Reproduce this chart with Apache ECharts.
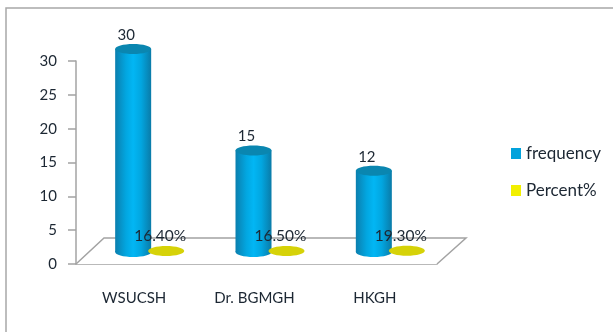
<!DOCTYPE html>
<html>
<head>
<meta charset="utf-8">
<style>html,body{margin:0;padding:0;background:#fff}#chart{width:613px;height:332px}</style>
<script src="https://cdn.jsdelivr.net/npm/echarts@6/dist/echarts.min.js"></script>
</head>
<body>
<div id="chart"></div>
<script>
const categories = ['WSUCSH', 'Dr. BGMGH', 'HKGH'];
const frequency = [30, 15, 12];
const percentShare = [0.164, 0.165, 0.193];
const yTicks = { min: 0, max: 30, interval: 5 };

const FONT = 'Lato';
const TEXT = '#1c2733';
const AXIS = '#a3a3a3';
// Oblique depth of the floor, and where columns stand on it.
const DEPTH = { dx: 28, dy: -26 };
const STAND = { dx: -3, dy: -12 };
const COL_RX = 18, COL_RY = 5;
const DISC_DX = 33;

function renderFloor(params) {
  const r = params.coordSys;
  const b = r.y + r.height, l = r.x, e = r.x + r.width;
  return {
    type: 'polyline',
    silent: true,
    shape: { points: [[l, b], [l + DEPTH.dx, b + DEPTH.dy], [e + DEPTH.dx + 1, b + DEPTH.dy], [e, b]] },
    style: { fill: '#fff', stroke: AXIS, lineWidth: 1.5 }
  };
}

function renderColumn(params, api) {
  const i = api.value(0), v = api.value(1);
  const top = api.coord([i, v]), base = api.coord([i, 0]);
  const cx = top[0] + STAND.dx;
  const yTop = top[1] + STAND.dy, yBase = base[1] + STAND.dy;
  const side = new echarts.graphic.LinearGradient(0, 0, 1, 0, [
    { offset: 0, color: '#0b7fae' },
    { offset: 0.3, color: '#02a6e0' },
    { offset: 0.5, color: '#02b6f4' },
    { offset: 0.72, color: '#02a6e0' },
    { offset: 1, color: '#0a7ba8' }
  ]);
  return {
    type: 'group',
    children: [
      { type: 'ellipse', shape: { cx: cx, cy: yBase, rx: COL_RX, ry: COL_RY }, style: { fill: side } },
      { type: 'rect', shape: { x: cx - COL_RX, y: yTop, width: COL_RX * 2, height: yBase - yTop }, style: { fill: side } },
      { type: 'ellipse', shape: { cx: cx, cy: yTop, rx: COL_RX, ry: COL_RY }, style: { fill: '#0a86b0' } },
      { type: 'text', style: { x: cx - 7, y: yTop - 14, text: String(v), fill: TEXT, font: '15px ' + FONT, align: 'center', verticalAlign: 'middle' } }
    ]
  };
}

function renderDisc(params, api) {
  const i = api.value(0), v = api.value(1);
  const top = api.coord([i, v]);
  const cx = top[0] + STAND.dx + DISC_DX;
  const cy = top[1] + STAND.dy;
  return {
    type: 'group',
    z2: 10,
    children: [
      { type: 'ellipse', shape: { cx: cx, cy: cy, rx: COL_RX, ry: COL_RY }, style: { fill: '#d6d208' } },
      { type: 'text', z2: 20, style: { x: cx - 6, y: cy - 15, text: (v * 100).toFixed(2) + '%', fill: TEXT, font: '15.5px ' + FONT, align: 'center', verticalAlign: 'middle' } }
    ]
  };
}

const chart = echarts.init(document.getElementById('chart'), null, { renderer: 'canvas' });
chart.setOption({
  animation: false,
  backgroundColor: '#fff',
  graphic: [{
    type: 'rect',
    silent: true,
    z: -1,
    shape: { x: 6, y: 8, width: 640, height: 360 },
    style: { fill: 'none', stroke: '#a8a8a8', lineWidth: 1.5 }
  }],
  grid: { left: 76, right: 176, top: 61, bottom: 68 },
  legend: {
    orient: 'vertical',
    left: 511,
    top: 145,
    padding: 0,
    itemWidth: 10,
    itemHeight: 11,
    itemGap: 20,
    icon: 'rect',
    data: ['frequency', 'Percent%'],
    textStyle: { fontFamily: FONT, fontSize: 17, color: TEXT }
  },
  xAxis: {
    type: 'category',
    data: categories,
    axisLine: { lineStyle: { color: AXIS, width: 1.5 } },
    axisTick: { length: 8, lineStyle: { color: AXIS, width: 1.5 } },
    axisLabel: { margin: 27, fontFamily: FONT, fontSize: 15, color: TEXT, padding: [0, 4, 0, 0], interval: 0 }
  },
  yAxis: {
    type: 'value',
    min: yTicks.min,
    max: yTicks.max,
    interval: yTicks.interval,
    splitLine: { show: false },
    axisLine: { show: true, lineStyle: { color: AXIS, width: 1.5 } },
    axisTick: { show: true, length: 8, lineStyle: { color: AXIS, width: 1.5 } },
    axisLabel: { margin: 19, fontFamily: FONT, fontSize: 15, color: TEXT, padding: [3, 0, 0, 0] }
  },
  series: [
    { type: 'custom', name: 'floor', z: 1, renderItem: renderFloor, data: [[0, 0]], encode: { x: 0, y: 1 } },
    { type: 'custom', name: 'frequency', z: 2, itemStyle: { color: '#02a2dc' }, renderItem: renderColumn,
      data: frequency.map((v, i) => [i, v]), encode: { x: 0, y: 1 } },
    { type: 'custom', name: 'Percent%', z: 3, itemStyle: { color: '#f2ef00' }, renderItem: renderDisc,
      data: percentShare.map((v, i) => [i, v]), encode: { x: 0, y: 1 } }
  ]
});
</script>
</body>
</html>
